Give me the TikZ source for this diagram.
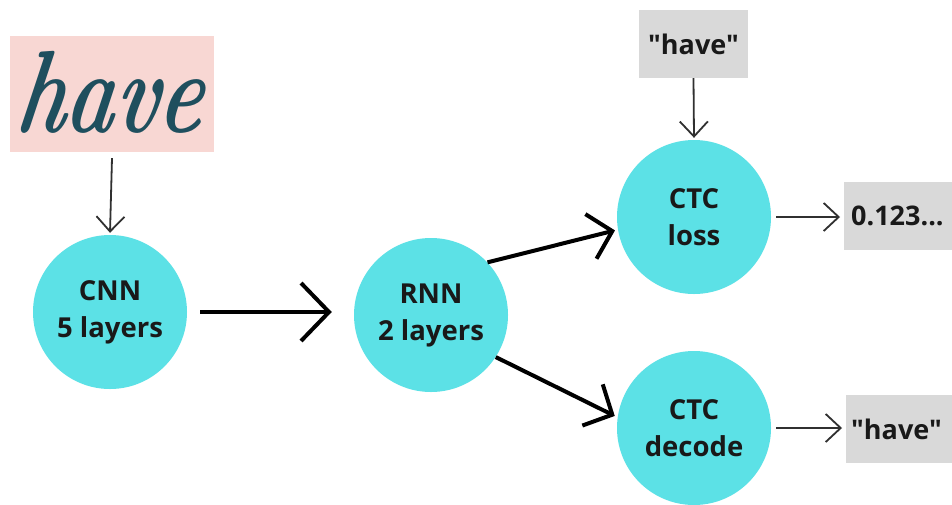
\documentclass[tikz,border=0pt]{standalone}
\usepackage{fontspec}
\setsansfont{Open Sans}
\newfontfamily\labelfont{Open Sans}[Ligatures=TeXOff]
\usetikzlibrary{arrows.meta,calc}
\definecolor{turq}{HTML}{5CE1E6}
\definecolor{boxgray}{HTML}{D9D9D9}
\definecolor{pinkbg}{HTML}{F8D7D3}
\definecolor{ink}{HTML}{1F4F5E}
\definecolor{thinline}{HTML}{303030}
\tikzset{
  circ/.style={circle, fill=turq, minimum size=154pt, inner sep=0pt, align=center,
    font=\sffamily\bfseries\fontsize{27.5}{37}\selectfont, text=black!90},
  gbox/.style={rectangle, fill=boxgray, minimum height=68pt, inner sep=0pt,
    font=\labelfont\bfseries\fontsize{27}{30}\selectfont, text=black!90},
  thinarrow/.style={draw=thinline, line width=1.8pt,
    -{Straight Barb[length=15pt,width=28pt,line width=1.8pt]}},
  thickarrow/.style={draw=black, line width=4pt,
    -{Straight Barb[length=28pt,width=58pt,line width=4pt]}},
  midarrow/.style={draw=black, line width=4pt,
    -{Straight Barb[length=22pt,width=46pt,line width=4pt]}}
}
\begin{document}
\begin{tikzpicture}[x=1pt,y=-1pt]
\useasboundingbox (0,0) rectangle (952,504);
\clip (0,0) rectangle (952,504);
\fill[white] (0,0) rectangle (952,504);
% handwriting input
\node[rectangle, fill=pinkbg, minimum width=204pt, minimum height=116pt, inner sep=0pt] (hw) at (112,94) {};
\node[text=ink, font=\fontsize{96}{96}\selectfont\itshape\bfseries, xscale=0.86, yscale=1.22, xslant=0.22, inner sep=0pt] (hwtext) at (113,92) {have};
% circles
\node[circ] (cnn) at (110,312) {CNN\\5 layers};
\node[circ] (rnn) at (431,315) {RNN\\2 layers};
\node[circ] (loss) at (694,217) {CTC\\loss};
\node[circ] (dec) at (694,428) {CTC\\decode};
% grey boxes
\node[gbox, minimum width=109pt] (tgt) at (693.5,44) {"have"};
\node[gbox, anchor=west, minimum width=116pt, text width=116pt, align=left] (out1) at (844,216) {\hspace*{7pt}0.123...};
\node[gbox, anchor=west, minimum width=116pt, text width=116pt, align=left] (out2) at (846,429) {\hspace*{5pt}"have"};
% connectors
\draw[thinarrow] ([yshift=-6pt]hw.south) -- ([yshift=2pt]cnn.north);
\draw[thickarrow] ([xshift=13pt]cnn.east) -- ([xshift=-22pt]cnn.east -| rnn.west);
\draw[midarrow] (rnn.43) -- ([shift={(-3pt,0pt)}]loss.190);
\draw[midarrow] (rnn.-33) -- ([shift={(-3pt,0pt)}]dec.171);
\draw[thinarrow] (tgt.south) -- ([yshift=2pt]loss.north);
\draw[thinarrow] ([xshift=5pt]loss.east) -- ([xshift=-4pt]loss.east -| out1.west);
\draw[thinarrow] ([xshift=5pt]dec.east) -- ([xshift=-4pt]dec.east -| out2.west);
\end{tikzpicture}
\end{document}
